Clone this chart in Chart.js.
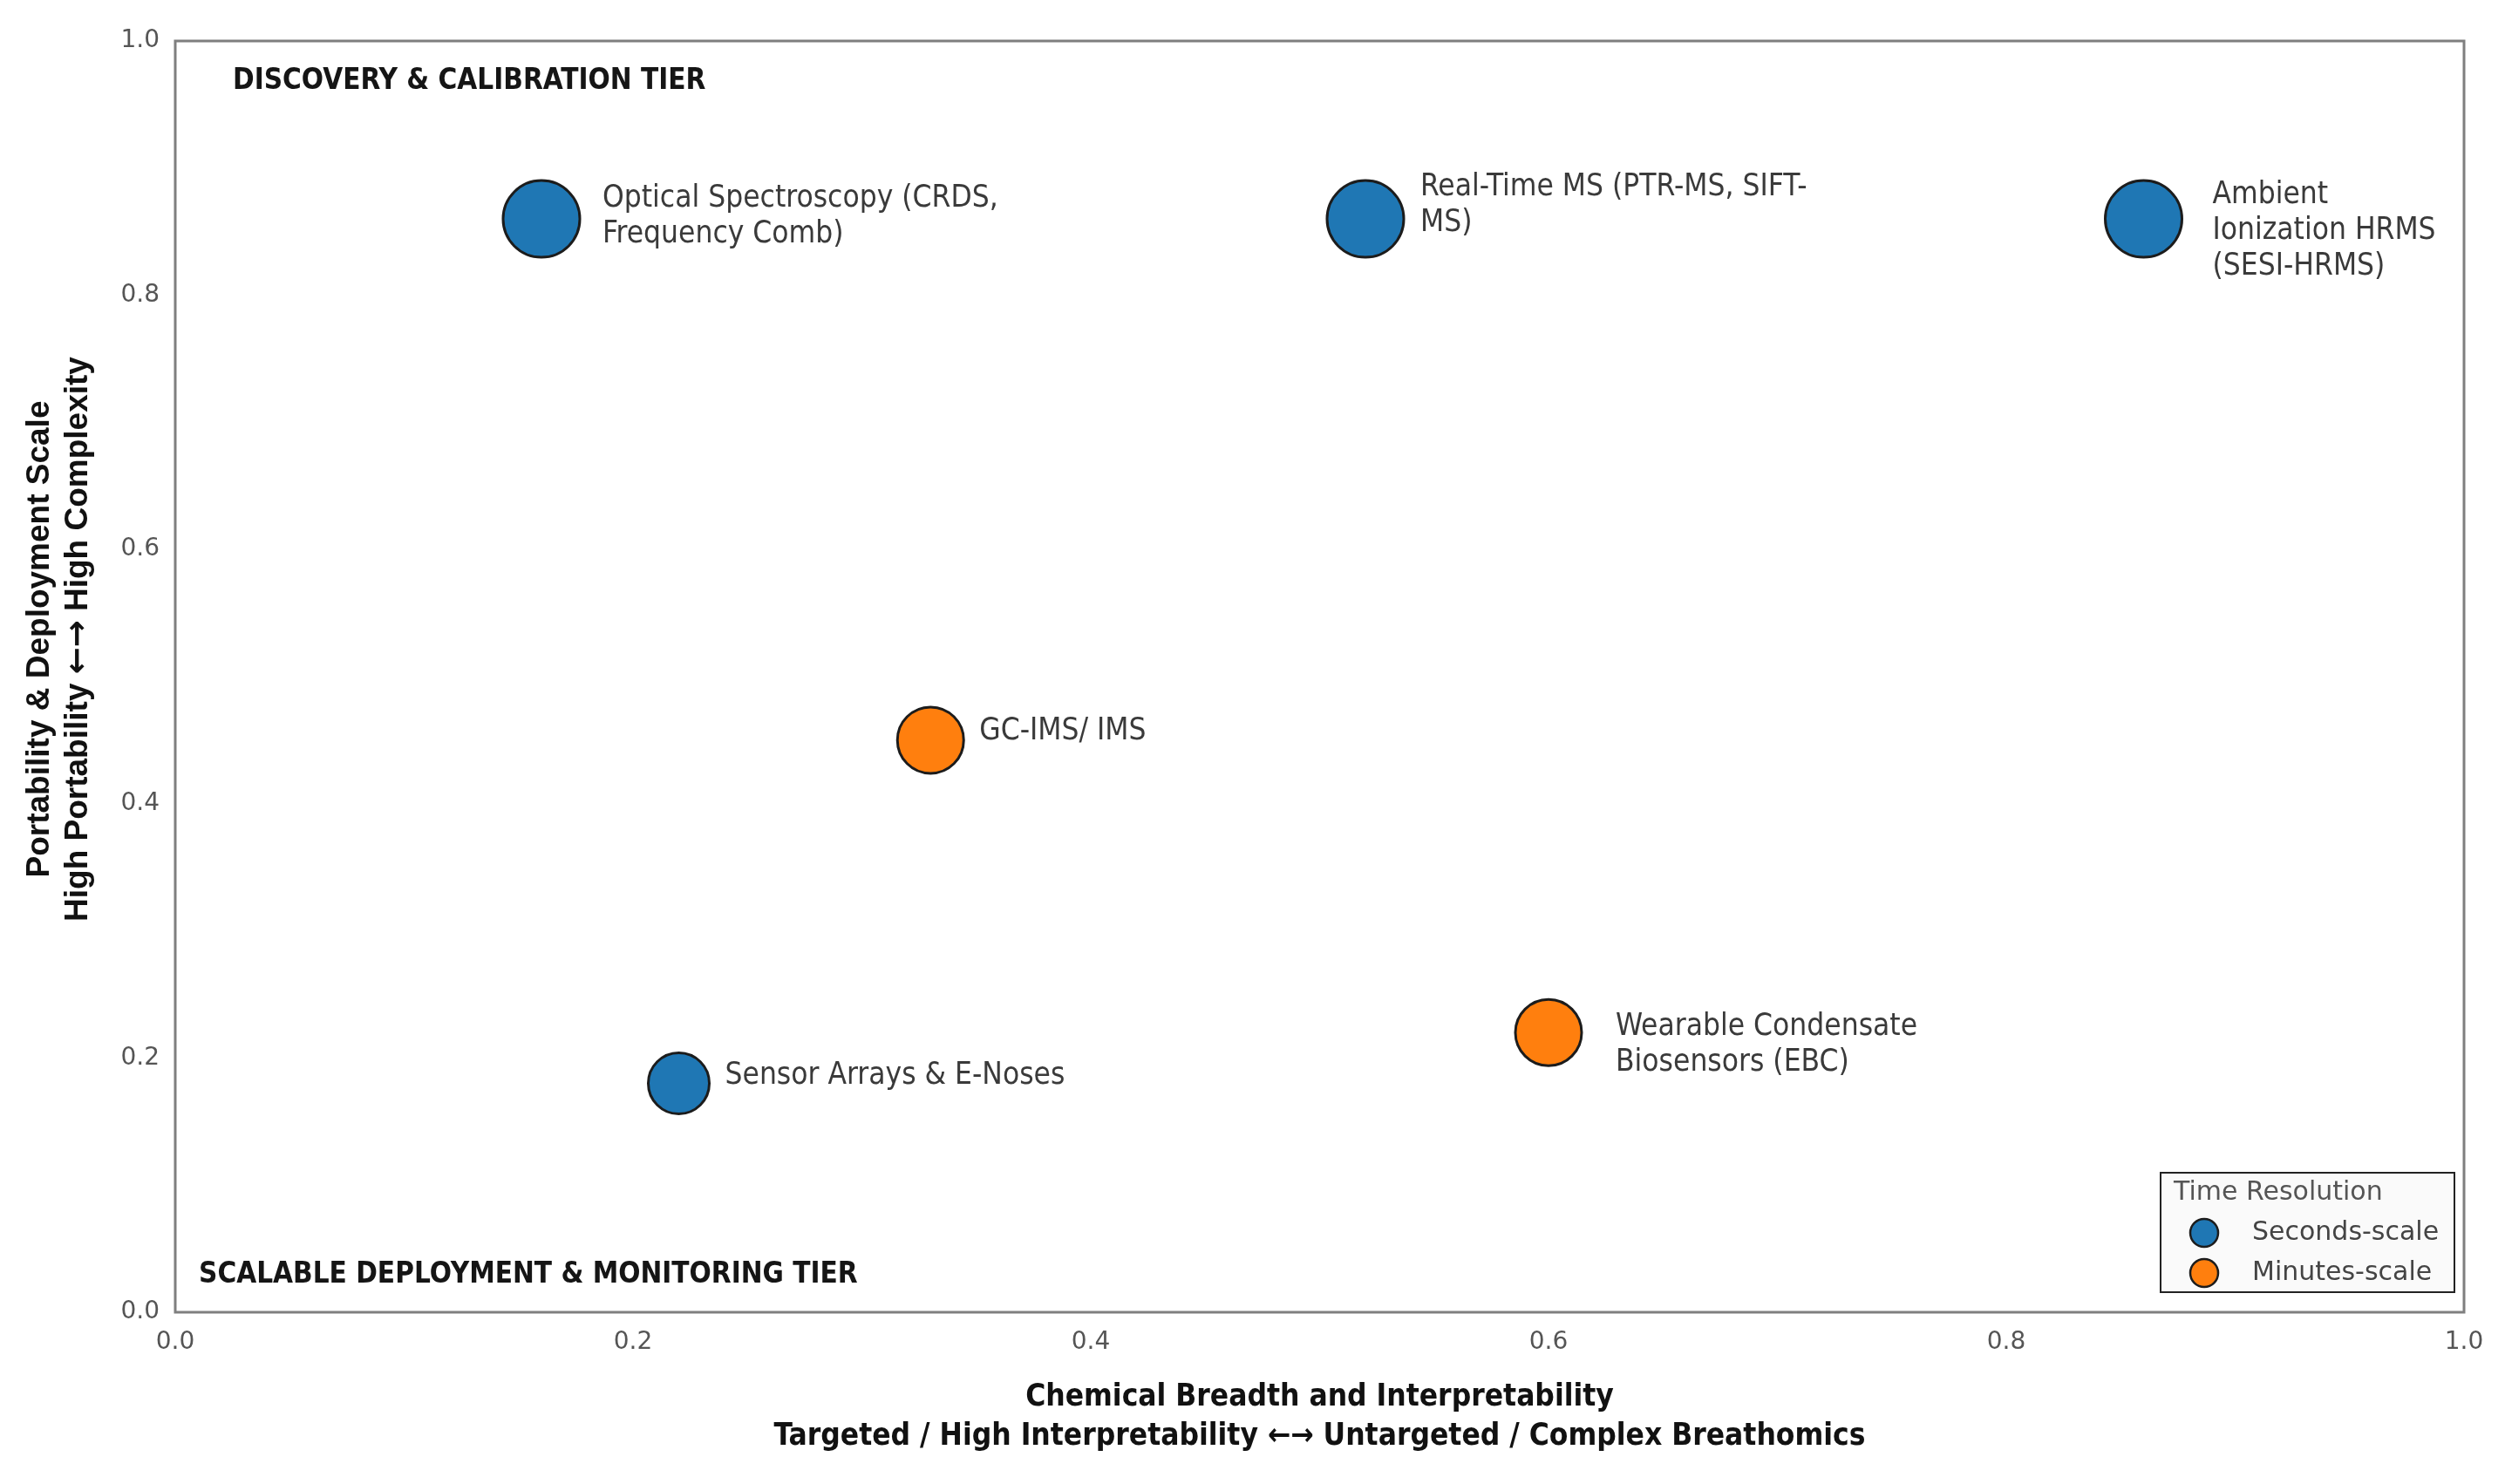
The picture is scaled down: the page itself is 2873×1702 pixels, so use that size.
<!DOCTYPE html>
<html>
<head>
<meta charset="utf-8">
<script src="https://cdn.jsdelivr.net/npm/chart.js@4.4.1/dist/chart.umd.min.js"></script>
<style>
  html, body { margin: 0; padding: 0; background: #fff; }
  #wrap { width: 2873px; height: 1702px; }
</style>
</head>
<body>
<div id="wrap"><canvas id="chart" width="2873" height="1702"></canvas></div>
<script>
// values
const techniques = [
  ['Optical Spectroscopy (CRDS,', 'Frequency Comb)'],
  ['Real-Time MS (PTR-MS, SIFT-', 'MS)'],
  ['Ambient', 'Ionization HRMS', '(SESI-HRMS)'],
  ['GC-IMS/ IMS'],
  ['Sensor Arrays & E-Noses'],
  ['Wearable Condensate', 'Biosensors (EBC)']
];
const breadth = [0.16, 0.52, 0.86, 0.33, 0.22, 0.60];
const portability = [0.86, 0.86, 0.86, 0.45, 0.18, 0.22];
const resolution = ['Seconds-scale', 'Seconds-scale', 'Seconds-scale', 'Minutes-scale', 'Seconds-scale', 'Minutes-scale'];
const resolutionLevels = ['Seconds-scale', 'Minutes-scale'];
const tickValues = [0.0, 0.2, 0.4, 0.6, 0.8, 1.0];

const tierTop = 'DISCOVERY & CALIBRATION TIER';
const tierBottom = 'SCALABLE DEPLOYMENT & MONITORING TIER';
const legendTitle = 'Time Resolution';
const yTitle = ['Portability & Deployment Scale', ['High Portability ', '\u2190\u2192', ' High Complexity']];

// styling / layout (kept apart from the data)
const levelColors = ['#1f77b4', '#ff7f0e'];
const markerRadius = [44, 44, 44, 38, 35, 38];
const labelNudge = [[70, -3], [63, -16], [79, 14], [56, -10], [53, -9], [77, 14]];
const NARROW = "'Liberation Sans Narrow', 'DejaVu Sans Condensed', 'Roboto Condensed', Roboto, sans-serif";
const ARIAL = "'Liberation Sans', Arial, sans-serif";

const datasets = resolutionLevels.map((lvl, k) => ({
  label: lvl,
  data: breadth.map((b, i) => ({ x: b, y: portability[i], i: i })).filter(p => resolution[p.i] === lvl),
  backgroundColor: levelColors[k],
  borderColor: '#1c1c1c',
  borderWidth: 3,
  pointRadius: c => markerRadius[c.raw.i],
  pointHoverRadius: c => markerRadius[c.raw.i]
}));

const extras = {
  id: 'extras',
  beforeDatasetsDraw(chart) {
    const { ctx, chartArea: a } = chart;
    ctx.save();
    ctx.strokeStyle = '#7f7f7f';
    ctx.lineWidth = 3;
    ctx.strokeRect(a.left, a.top, a.right - a.left, a.bottom - a.top);
    ctx.fillStyle = '#151515';
    ctx.font = 'bold 33px ' + NARROW;
    ctx.textBaseline = 'middle';
    ctx.textAlign = 'left';
    ctx.fillText(tierTop, a.left + 66, a.top + 46);
    ctx.fillText(tierBottom, a.left + 27, a.bottom - 43);

    // y axis title, two rotated lines
    ctx.translate(0, 733);
    ctx.rotate(-Math.PI / 2);
    ctx.fillStyle = '#111';
    ctx.textAlign = 'center';
    ctx.font = 'bold 37px ' + ARIAL;
    ctx.fillText(yTitle[0], 0, 46);
    const parts = yTitle[1];
    const fonts = ['bold 37px ' + ARIAL, 'bold 37px "DejaVu Sans"', 'bold 37px ' + ARIAL];
    const widths = parts.map((p, n) => { ctx.font = fonts[n]; return ctx.measureText(p).width; });
    let x = -widths.reduce((s, w) => s + w, 0) / 2;
    ctx.textAlign = 'left';
    parts.forEach((p, n) => { ctx.font = fonts[n]; ctx.fillText(p, x, 90); x += widths[n]; });
    ctx.restore();
  },
  afterDatasetsDraw(chart) {
    const { ctx, chartArea: a } = chart;
    ctx.save();
    // point labels
    ctx.font = '35px ' + NARROW;
    ctx.fillStyle = '#3a3a3a';
    ctx.textBaseline = 'middle';
    ctx.textAlign = 'left';
    chart.data.datasets.forEach((ds, d) => {
      chart.getDatasetMeta(d).data.forEach((el, j) => {
        const i = ds.data[j].i;
        const lines = techniques[i];
        const lh = 41;
        const y0 = el.y + labelNudge[i][1] - (lines.length - 1) * lh / 2;
        lines.forEach((t, n) => ctx.fillText(t, el.x + labelNudge[i][0], y0 + n * lh));
      });
    });
    // legend box
    const bx = a.right - 348, by = a.bottom - 160, bw = 337, bh = 137;
    ctx.fillStyle = '#fafafa';
    ctx.fillRect(bx, by, bw, bh);
    ctx.strokeStyle = '#222';
    ctx.lineWidth = 2;
    ctx.strokeRect(bx, by, bw, bh);
    ctx.font = '30px "DejaVu Sans"';
    ctx.fillStyle = '#555';
    ctx.fillText(legendTitle, bx + 15, by + 23);
    resolutionLevels.forEach((lvl, k) => {
      const cy = by + 69 + k * 46;
      ctx.beginPath();
      ctx.arc(bx + 50, cy, 16, 0, Math.PI * 2);
      ctx.fillStyle = levelColors[k];
      ctx.fill();
      ctx.lineWidth = 2.5;
      ctx.strokeStyle = '#1c1c1c';
      ctx.stroke();
      ctx.fillStyle = '#444';
      ctx.font = '30px "DejaVu Sans"';
      ctx.fillText(lvl, bx + 105, cy);
    });
    ctx.restore();
  }
};

new Chart(document.getElementById('chart'), {
  type: 'scatter',
  data: { datasets: datasets },
  options: {
    responsive: false,
    animation: false,
    events: [],
    layout: { padding: { top: 41, right: 45, bottom: 0, left: 0 } },
    plugins: { legend: { display: false }, tooltip: { enabled: false } },
    scales: {
      x: {
        type: 'linear', min: 0, max: 1,
        afterBuildTicks: s => { s.ticks = tickValues.map(v => ({ value: v })); },
        afterFit: s => { s.height = 197; },
        grid: { display: false, drawTicks: false },
        border: { display: false },
        ticks: { padding: 18, maxRotation: 0, autoSkip: false, color: '#555',
                 font: { family: 'DejaVu Sans', size: 28 }, callback: v => v.toFixed(1) },
        title: {
          display: true,
          text: ['Chemical Breadth and Interpretability', 'Targeted / High Interpretability \u2190\u2192 Untargeted / Complex Breathomics'],
          color: '#111',
          font: { family: NARROW, size: 35, weight: 'bold', lineHeight: 1.3 },
          padding: { top: 0, bottom: 31 }
        }
      },
      y: {
        type: 'linear', min: 0, max: 1,
        afterBuildTicks: s => { s.ticks = tickValues.map(v => ({ value: v })); },
        afterFit: s => { s.width = 201; },
        grid: { display: false, drawTicks: false },
        border: { display: false },
        ticks: { padding: 18, autoSkip: false, color: '#555',
                 font: { family: 'DejaVu Sans', size: 28 }, callback: v => v.toFixed(1) },
        title: { display: false }
      }
    }
  },
  plugins: [extras]
});
</script>
</body>
</html>
